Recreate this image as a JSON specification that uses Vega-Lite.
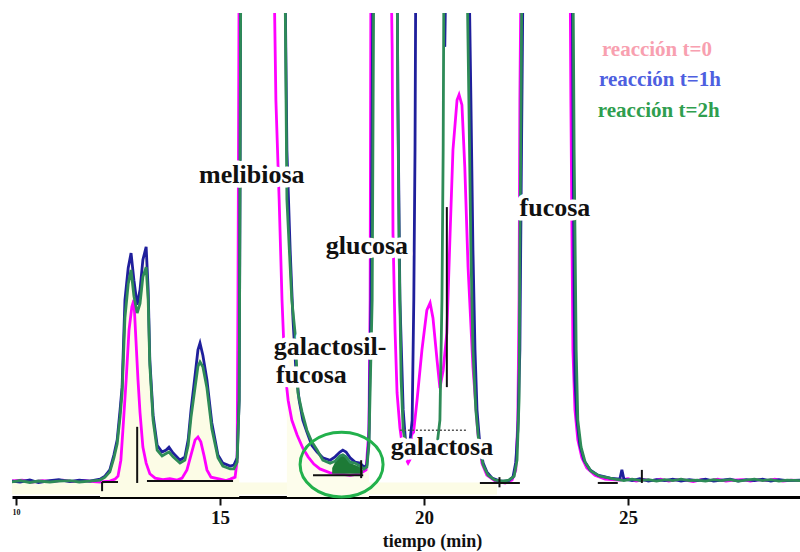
{
  "$schema": "https://vega.github.io/schema/vega-lite/v6.json",
  "width": 788,
  "height": 484,
  "autosize": {"type": "none"},
  "padding": {"left": 12, "right": 0, "top": 13, "bottom": 55},
  "background": "white",
  "config": {"view": {"stroke": null}},
  "datasets": {
    "p0": [
      {"t":9.90,"s":3.3},{"t":10.15,"s":3.5},{"t":10.40,"s":3.1},{"t":10.65,"s":3.4},{"t":10.90,"s":3.2},{"t":11.15,"s":3.5},{"t":11.40,"s":3.2},{"t":11.65,"s":3.4},{"t":11.90,"s":3.2},{"t":12.06,"s":3.1},{"t":12.30,"s":3.3},{"t":12.43,"s":3.7},{"t":12.50,"s":4.3},{"t":12.57,"s":7.6},{"t":12.62,"s":13.8},{"t":12.70,"s":24.2},{"t":12.77,"s":34.5},{"t":12.84,"s":39.3},{"t":12.89,"s":40.7},{"t":12.94,"s":32.4},{"t":12.99,"s":24.2},{"t":13.04,"s":17.4},{"t":13.11,"s":10.3},{"t":13.19,"s":7.0},{"t":13.28,"s":4.8},{"t":13.41,"s":3.9},{"t":13.60,"s":3.6},{"t":13.77,"s":3.8},{"t":13.95,"s":3.5},{"t":14.07,"s":3.9},{"t":14.19,"s":5.6},{"t":14.29,"s":8.7},{"t":14.39,"s":11.8},{"t":14.46,"s":12.4},{"t":14.53,"s":11.4},{"t":14.61,"s":8.5},{"t":14.68,"s":5.6},{"t":14.78,"s":4.1},{"t":15.00,"s":3.7},{"t":15.15,"s":3.4},{"t":15.25,"s":3.7},{"t":15.37,"s":4.1},{"t":15.42,"s":7.6},{"t":15.44,"s":40.7},{"t":15.47,"s":111},
      {"t":16.32,"s":111},{"t":16.37,"s":82.0},{"t":16.45,"s":61.4},{"t":16.52,"s":40.7},{"t":16.59,"s":26.2},{"t":16.67,"s":20.0},{"t":16.76,"s":15.9},{"t":16.89,"s":12.8},{"t":17.03,"s":10.1},{"t":17.16,"s":8.3},{"t":17.30,"s":6.8},{"t":17.45,"s":5.8},{"t":17.70,"s":5.0},{"t":17.94,"s":4.8},{"t":18.19,"s":4.5},{"t":18.43,"s":4.8},{"t":18.58,"s":5.6},{"t":18.65,"s":13.8},{"t":18.68,"s":40.7},{"t":18.70,"s":111},
      {"t":19.19,"s":111},{"t":19.22,"s":92.4},{"t":19.24,"s":54.5},{"t":19.29,"s":34.5},{"t":19.34,"s":21.5},{"t":19.41,"s":14.3},{"t":19.46,"s":11.2},{"t":19.53,"s":8.3},{"t":19.61,"s":7.0},{"t":19.68,"s":8.1},{"t":19.75,"s":13.8},{"t":19.83,"s":20.0},{"t":19.95,"s":30.4},{"t":20.07,"s":38.6},{"t":20.15,"s":40.1},{"t":20.22,"s":37.0},{"t":20.32,"s":28.3},{"t":20.39,"s":22.5},{"t":20.47,"s":26.2},{"t":20.56,"s":33.9},{"t":20.64,"s":54.5},{"t":20.71,"s":71.7},{"t":20.81,"s":82.0},{"t":20.86,"s":83.1},{"t":20.93,"s":81.0},{"t":21.00,"s":68.2},{"t":21.08,"s":47.5},{"t":21.20,"s":26.9},{"t":21.32,"s":13.2},{"t":21.42,"s":7.0},{"t":21.54,"s":4.5},{"t":21.74,"s":3.3},{"t":21.99,"s":2.9},{"t":22.16,"s":3.5},{"t":22.25,"s":5.6},{"t":22.30,"s":15.9},{"t":22.33,"s":40.7},{"t":22.35,"s":82.0},{"t":22.38,"s":111},
      {"t":23.58,"s":111},{"t":23.60,"s":82.0},{"t":23.63,"s":51.0},{"t":23.65,"s":30.4},{"t":23.70,"s":18.0},{"t":23.77,"s":11.8},{"t":23.87,"s":8.1},{"t":23.99,"s":6.0},{"t":24.19,"s":4.5},{"t":24.44,"s":3.7},{"t":24.80,"s":3.5},{"t":25.00,"s":3.8},{"t":25.20,"s":3.3},{"t":25.40,"s":3.6},{"t":25.60,"s":3.4},{"t":25.80,"s":3.7},{"t":26.00,"s":3.3},{"t":26.20,"s":3.6},{"t":26.40,"s":3.5},{"t":26.60,"s":3.2},{"t":26.80,"s":3.6},{"t":27.00,"s":3.4},{"t":27.20,"s":3.7},{"t":27.40,"s":3.3},{"t":27.60,"s":3.5},{"t":27.80,"s":3.6},{"t":28.00,"s":3.3},{"t":28.20,"s":3.6},{"t":28.40,"s":3.4},{"t":28.60,"s":3.7},{"t":28.80,"s":3.3},{"t":29.00,"s":3.5},{"t":29.22,"s":3.4}
    ],
    "p1": [
      {"t":9.90,"s":3.3},{"t":10.10,"s":3.1},{"t":10.34,"s":3.5},{"t":10.55,"s":3.0},{"t":10.83,"s":3.4},{"t":11.05,"s":3.6},{"t":11.32,"s":3.2},{"t":11.55,"s":3.5},{"t":11.81,"s":3.3},{"t":12.06,"s":3.7},{"t":12.18,"s":4.3},{"t":12.30,"s":5.6},{"t":12.40,"s":8.7},{"t":12.48,"s":11.8},{"t":12.55,"s":17.9},{"t":12.60,"s":22.7},{"t":12.67,"s":40.7},{"t":12.75,"s":47.3},{"t":12.82,"s":50.4},{"t":12.89,"s":44.8},{"t":12.97,"s":39.7},{"t":13.04,"s":42.8},{"t":13.11,"s":49.0},{"t":13.19,"s":51.7},{"t":13.24,"s":42.8},{"t":13.28,"s":28.3},{"t":13.36,"s":16.9},{"t":13.46,"s":10.7},{"t":13.58,"s":9.3},{"t":13.68,"s":9.7},{"t":13.75,"s":10.3},{"t":13.85,"s":9.1},{"t":14.02,"s":7.6},{"t":14.14,"s":8.3},{"t":14.22,"s":11.8},{"t":14.29,"s":18.0},{"t":14.39,"s":25.2},{"t":14.46,"s":30.4},{"t":14.51,"s":31.8},{"t":14.58,"s":29.3},{"t":14.68,"s":24.2},{"t":14.80,"s":15.3},{"t":14.95,"s":8.7},{"t":15.07,"s":7.0},{"t":15.25,"s":6.4},{"t":15.34,"s":6.6},{"t":15.42,"s":8.1},{"t":15.47,"s":20.0},{"t":15.49,"s":61.4},{"t":15.51,"s":111},
      {"t":16.59,"s":111},{"t":16.64,"s":71.7},{"t":16.72,"s":51.0},{"t":16.79,"s":36.6},{"t":16.86,"s":26.2},{"t":16.94,"s":20.0},{"t":17.03,"s":15.9},{"t":17.13,"s":13.4},{"t":17.25,"s":10.7},{"t":17.38,"s":9.3},{"t":17.52,"s":8.1},{"t":17.70,"s":7.6},{"t":17.82,"s":8.3},{"t":17.94,"s":9.3},{"t":18.01,"s":9.7},{"t":18.09,"s":9.3},{"t":18.19,"s":8.1},{"t":18.31,"s":7.2},{"t":18.43,"s":7.0},{"t":18.53,"s":6.2},{"t":18.60,"s":6.6},{"t":18.65,"s":11.8},{"t":18.70,"s":40.7},{"t":18.73,"s":82.0},{"t":18.75,"s":111},
      {"t":19.34,"s":111},{"t":19.36,"s":82.0},{"t":19.41,"s":40.7},{"t":19.49,"s":18.0},{"t":19.56,"s":10.1},{"t":19.66,"s":11.8},{"t":19.71,"s":15.9},{"t":19.75,"s":40.7},{"t":19.78,"s":71.7},{"t":19.80,"s":111},{"t":20.49,"s":111},{"t":20.51,"s":93.0},{"t":20.54,"s":111},
      {"t":21.10,"s":111},{"t":21.15,"s":82.0},{"t":21.20,"s":51.0},{"t":21.25,"s":30.4},{"t":21.30,"s":17.9},{"t":21.37,"s":10.7},{"t":21.45,"s":7.0},{"t":21.54,"s":5.2},{"t":21.67,"s":3.9},{"t":21.86,"s":3.3},{"t":22.06,"s":3.3},{"t":22.18,"s":4.1},{"t":22.25,"s":7.2},{"t":22.30,"s":13.8},{"t":22.35,"s":30.4},{"t":22.38,"s":61.4},{"t":22.43,"s":111},
      {"t":23.63,"s":111},{"t":23.65,"s":82.0},{"t":23.68,"s":40.7},{"t":23.70,"s":24.2},{"t":23.75,"s":15.9},{"t":23.82,"s":10.7},{"t":23.92,"s":7.6},{"t":24.07,"s":5.6},{"t":24.26,"s":4.5},{"t":24.56,"s":3.9},{"t":24.80,"s":3.7},{"t":24.85,"s":5.6},{"t":24.90,"s":3.7},{"t":25.10,"s":3.4},{"t":25.29,"s":3.8},{"t":25.50,"s":3.3},{"t":25.70,"s":3.6},{"t":25.90,"s":3.4},{"t":26.10,"s":3.7},{"t":26.30,"s":3.3},{"t":26.50,"s":3.6},{"t":26.70,"s":3.4},{"t":26.90,"s":3.7},{"t":27.10,"s":3.3},{"t":27.30,"s":3.5},{"t":27.50,"s":3.7},{"t":27.70,"s":3.3},{"t":27.90,"s":3.6},{"t":28.10,"s":3.4},{"t":28.30,"s":3.7},{"t":28.50,"s":3.3},{"t":28.70,"s":3.6},{"t":28.90,"s":3.4},{"t":29.22,"s":3.5}
    ],
    "p2": [
      {"t":9.90,"s":3.1},{"t":10.10,"s":3.4},{"t":10.34,"s":3.0},{"t":10.55,"s":3.3},{"t":10.83,"s":3.1},{"t":11.05,"s":3.3},{"t":11.32,"s":3.4},{"t":11.55,"s":3.1},{"t":11.81,"s":3.3},{"t":12.06,"s":3.5},{"t":12.18,"s":4.1},{"t":12.30,"s":5.2},{"t":12.40,"s":8.1},{"t":12.48,"s":11.0},{"t":12.55,"s":16.5},{"t":12.60,"s":21.5},{"t":12.67,"s":37.0},{"t":12.75,"s":44.0},{"t":12.82,"s":46.9},{"t":12.89,"s":41.5},{"t":12.97,"s":38.0},{"t":13.04,"s":40.0},{"t":13.11,"s":45.5},{"t":13.19,"s":47.5},{"t":13.24,"s":40.7},{"t":13.28,"s":27.3},{"t":13.36,"s":15.9},{"t":13.46,"s":9.7},{"t":13.58,"s":8.5},{"t":13.68,"s":9.0},{"t":13.75,"s":9.3},{"t":13.85,"s":8.3},{"t":14.02,"s":7.0},{"t":14.14,"s":7.6},{"t":14.22,"s":10.7},{"t":14.29,"s":16.5},{"t":14.39,"s":22.7},{"t":14.46,"s":27.0},{"t":14.51,"s":27.9},{"t":14.58,"s":26.9},{"t":14.68,"s":22.5},{"t":14.80,"s":14.1},{"t":14.95,"s":8.1},{"t":15.07,"s":6.4},{"t":15.25,"s":5.8},{"t":15.34,"s":5.8},{"t":15.42,"s":7.2},{"t":15.47,"s":20.0},{"t":15.49,"s":61.4},{"t":15.51,"s":111},
      {"t":16.59,"s":111},{"t":16.64,"s":61.4},{"t":16.76,"s":40.7},{"t":16.84,"s":33.9},{"t":16.91,"s":21.5},{"t":17.01,"s":17.6},{"t":17.13,"s":13.8},{"t":17.25,"s":11.4},{"t":17.38,"s":9.7},{"t":17.52,"s":7.6},{"t":17.70,"s":7.0},{"t":17.82,"s":7.4},{"t":17.94,"s":8.5},{"t":18.01,"s":8.7},{"t":18.09,"s":8.3},{"t":18.19,"s":7.2},{"t":18.31,"s":7.0},{"t":18.43,"s":6.4},{"t":18.53,"s":5.8},{"t":18.60,"s":6.2},{"t":18.65,"s":10.7},{"t":18.73,"s":40.7},{"t":18.77,"s":111},
      {"t":19.34,"s":111},{"t":19.36,"s":82.0},{"t":19.39,"s":51.0},{"t":19.44,"s":24.2},{"t":19.49,"s":13.8},{"t":19.58,"s":9.7},{"t":19.71,"s":8.7},{"t":19.90,"s":8.3},{"t":20.15,"s":9.3},{"t":20.32,"s":10.7},{"t":20.39,"s":15.9},{"t":20.44,"s":40.7},{"t":20.47,"s":71.7},{"t":20.49,"s":111},
      {"t":21.05,"s":111},{"t":21.10,"s":82.0},{"t":21.15,"s":51.0},{"t":21.20,"s":30.4},{"t":21.27,"s":18.0},{"t":21.35,"s":10.7},{"t":21.45,"s":6.6},{"t":21.57,"s":4.5},{"t":21.74,"s":3.5},{"t":21.94,"s":3.3},{"t":22.08,"s":3.5},{"t":22.21,"s":4.3},{"t":22.28,"s":7.6},{"t":22.33,"s":20.0},{"t":22.35,"s":51.0},{"t":22.38,"s":82.0},{"t":22.40,"s":111},
      {"t":23.65,"s":111},{"t":23.68,"s":71.7},{"t":23.73,"s":30.4},{"t":23.77,"s":15.9},{"t":23.85,"s":10.3},{"t":23.95,"s":7.2},{"t":24.09,"s":5.4},{"t":24.31,"s":4.3},{"t":24.68,"s":3.7},{"t":24.90,"s":3.4},{"t":25.10,"s":3.7},{"t":25.30,"s":3.4},{"t":25.50,"s":3.6},{"t":25.70,"s":3.3},{"t":25.90,"s":3.6},{"t":26.10,"s":3.4},{"t":26.30,"s":3.7},{"t":26.50,"s":3.4},{"t":26.70,"s":3.5},{"t":26.90,"s":3.3},{"t":27.10,"s":3.6},{"t":27.30,"s":3.4},{"t":27.50,"s":3.6},{"t":27.70,"s":3.3},{"t":27.90,"s":3.5},{"t":28.10,"s":3.7},{"t":28.30,"s":3.4},{"t":28.50,"s":3.6},{"t":28.70,"s":3.3},{"t":28.90,"s":3.5},{"t":29.22,"s":3.4}
    ],
    "hump": [
      {"t":17.75,"s":6.0,"s2":4.8},{"t":17.82,"s":7.2,"s2":4.8},{"t":17.94,"s":8.3,"s2":4.8},{"t":18.01,"s":8.7,"s2":4.8},{"t":18.09,"s":8.1,"s2":4.8},{"t":18.19,"s":7.0,"s2":4.8},{"t":18.31,"s":6.6,"s2":4.8},{"t":18.43,"s":6.2,"s2":4.8},{"t":18.50,"s":5.6,"s2":4.8}
    ],
    "band": [{"t":9.90,"t2":21.79,"s":0.5,"s2":3.0}],
    "marks": [
      {"t":12.97,"t2":12.97,"s":2.9,"s2":14.5},
      {"t":20.56,"t2":20.56,"s":22.7,"s2":59.9},
      {"t":12.11,"t2":12.50,"s":3.1,"s2":3.1},
      {"t":12.11,"t2":12.11,"s":1.2,"s2":3.1},
      {"t":13.21,"t2":15.32,"s":3.3,"s2":3.3},
      {"t":17.28,"t2":18.51,"s":4.5,"s2":4.5},
      {"t":18.46,"t2":18.46,"s":3.9,"s2":7.6},
      {"t":21.37,"t2":22.35,"s":2.9,"s2":2.9},
      {"t":21.85,"t2":21.85,"s":2.0,"s2":4.1},
      {"t":24.26,"t2":24.75,"s":2.9,"s2":2.9},
      {"t":25.34,"t2":25.34,"s":2.9,"s2":5.6}
    ],
    "dots": [{"t":19.41,"t2":21.05,"s":13.8,"s2":13.8}],
    "ring": [{"t":17.98,"s":6.7}],
    "labels": [
      {"t":15.78,"s":66.5,"txt":"melibiosa"},
      {"t":18.60,"s":51.9,"txt":"glucosa"},
      {"t":17.70,"s":31.0,"txt":"galactosil-"},
      {"t":17.24,"s":25.2,"txt":"fucosa"},
      {"t":20.44,"s":10.3,"txt":"galactosa"},
      {"t":23.21,"s":59.7,"txt":"fucosa"}
    ],
    "leg": [
      {"t":24.36,"s":92.4,"txt":"reacción t=0","serie":"t=0"},
      {"t":24.29,"s":86.2,"txt":"reacción t=1h","serie":"t=1h"},
      {"t":24.26,"s":79.8,"txt":"reacción t=2h","serie":"t=2h"}
    ]
  },
  "encoding": {
    "x": {
      "field": "t", "type": "quantitative",
      "scale": {"domain": [9.902, 29.216], "nice": false, "zero": false},
      "axis": {
        "values": [10, 15, 20, 25], "format": "d", "grid": false,
        "title": "tiempo (min)", "titleFont": "Liberation Serif", "titleFontSize": 18, "titleFontWeight": "bold", "titleColor": "#111",
        "titleX": 420, "titleY": 49, "titleBaseline": "alphabetic", "titleAlign": "center",
        "labelFont": "Liberation Serif", "labelFontWeight": "bold",
        "labelFontSize": {"condition": {"test": "datum.value == 10", "value": 8}, "value": 19},
        "labelColor": "#111", "labelPadding": 3, "labelFlush": false, "labelOverlap": false,
        "tickSize": 8, "tickWidth": 2, "tickColor": "#111",
        "domainColor": "#000", "domainWidth": 3
      }
    },
    "y": {
      "field": "s", "type": "quantitative",
      "scale": {"domain": [0, 100], "nice": false, "zero": false},
      "axis": null
    }
  },
  "layer": [
    {"data": {"name": "band"}, "mark": {"type": "rect", "color": "#fcfce6"}, "encoding": {"x2": {"field": "t2"}, "y2": {"field": "s2"}}},
    {"data": {"name": "p1"}, "transform": [{"filter": "datum.t >= 12.0 && datum.t <= 15.47"}], "mark": {"type": "area", "color": "#fcfce6", "clip": true}, "encoding": {}},
    {"data": {"name": "p2"}, "transform": [{"filter": "datum.t >= 16.64 && datum.t <= 18.70"}], "mark": {"type": "area", "color": "#fdfdec", "clip": true}, "encoding": {}},
    {"data": {"name": "p0"}, "mark": {"type": "line", "color": "#ff00ff", "strokeWidth": 2.8, "clip": true}, "encoding": {}},
    {"data": {"name": "hump"}, "mark": {"type": "area", "color": "#1d7a36", "clip": true}, "encoding": {"y2": {"field": "s2"}}},
    {"data": {"name": "p1"}, "mark": {"type": "line", "color": "#1f1f9c", "strokeWidth": 2.8, "clip": true}, "encoding": {}},
    {"data": {"name": "p2"}, "mark": {"type": "line", "color": "#2e8b57", "strokeWidth": 2.8, "clip": true}, "encoding": {}},
    {"data": {"name": "marks"}, "mark": {"type": "rule", "color": "#111", "strokeWidth": 2}, "encoding": {"x2": {"field": "t2"}, "y2": {"field": "s2"}}},
    {"data": {"name": "dots"}, "mark": {"type": "rule", "color": "#555", "strokeWidth": 1.5, "strokeDash": [2, 2]}, "encoding": {"x2": {"field": "t2"}, "y2": {"field": "s2"}}},
    {"data": {"name": "ring"}, "mark": {"type": "point", "shape": "M-1,0A1,0.78,0,1,1,1,0A1,0.78,0,1,1,-1,0Z", "size": 6889, "filled": false, "stroke": "#22b14c", "strokeWidth": 3, "opacity": 1}, "encoding": {}},
    {"data": {"name": "labels"}, "mark": {"type": "text", "font": "Liberation Serif", "fontWeight": "bold", "fontSize": 26, "align": "center", "baseline": "middle", "color": "white", "stroke": "white", "strokeWidth": 9, "strokeJoin": "round"}, "encoding": {"text": {"field": "txt"}}},
    {"data": {"name": "labels"}, "mark": {"type": "text", "font": "Liberation Serif", "fontWeight": "bold", "fontSize": 26, "align": "center", "baseline": "middle", "color": "#111"}, "encoding": {"text": {"field": "txt"}}},
    {"data": {"name": "leg"}, "mark": {"type": "text", "font": "Liberation Serif", "fontWeight": "bold", "fontSize": 21, "align": "left", "baseline": "middle"}, "encoding": {"text": {"field": "txt"}, "color": {"field": "serie", "type": "nominal", "scale": {"domain": ["t=0", "t=1h", "t=2h"], "range": ["#f8a0b0", "#4e5fe0", "#2f9e4f"]}, "legend": null}}}
  ]
}
